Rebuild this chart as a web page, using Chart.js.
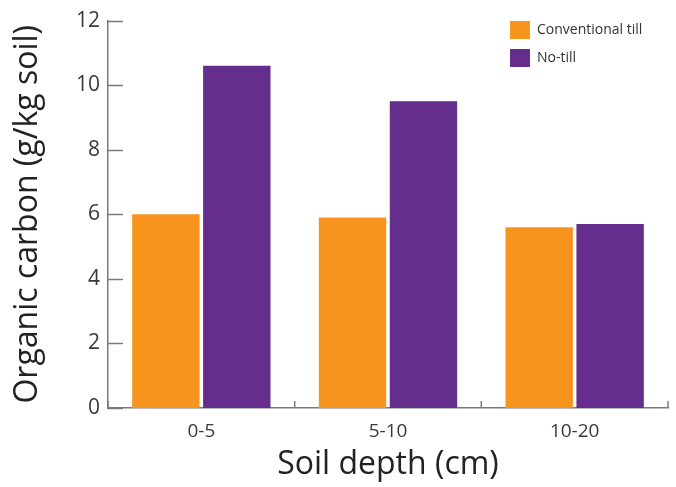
<!DOCTYPE html>
<html>
<head>
<meta charset="utf-8">
<script src="https://cdn.jsdelivr.net/npm/chart.js@4.4.1/dist/chart.umd.min.js"></script>
<style>
  html, body { margin: 0; padding: 0; background: #fff; }
  #wrap { width: 676px; height: 487px; }
</style>
</head>
<body>
<div id="wrap"><canvas id="grafica"></canvas></div>
<script>
const profundidades = ['0-5', '5-10', '10-20'];
const labranzaConvencional = [6.0, 5.9, 5.6];
const sinLabranza = [10.6, 9.5, 5.7];
const marcasY = [0, 2, 4, 6, 8, 10, 12];

const fuente = '"Open Sans", sans-serif';
const gris = '#7a7a7a';

// ticks pointing into the plot, plus legend in the top right
const extras = {
    id: 'extras',
    afterDraw(chart) {
        const ctx = chart.ctx;
        const x = chart.scales.x;
        const y = chart.scales.y;
        const area = chart.chartArea;
        ctx.save();
        ctx.strokeStyle = gris;
        ctx.lineWidth = 1.5;
        marcasY.forEach(v => {
            const py = Math.round(y.getPixelForValue(v)) + 0.5;
            ctx.beginPath();
            ctx.moveTo(area.left, py);
            ctx.lineTo(area.left + 15, py);
            ctx.stroke();
        });
        const n = profundidades.length;
        for (let i = 0; i <= n; i++) {
            const px = x.getPixelForValue(i - 0.5);
            ctx.beginPath();
            ctx.moveTo(px, area.bottom);
            ctx.lineTo(px, area.bottom - 7);
            ctx.stroke();
        }

        ctx.font = '14px ' + fuente;
        ctx.textBaseline = 'middle';
        ctx.textAlign = 'left';
        chart.data.datasets.forEach((ds, i) => {
            const top = 21 + i * 28;
            ctx.fillStyle = ds.backgroundColor;
            ctx.fillRect(510, top, 20, 18);
            ctx.fillStyle = '#333';
            ctx.fillText(ds.label, 537, top + 9);
        });
        ctx.restore();
    }
};

new Chart(document.getElementById('grafica'), {
    type: 'bar',
    data: {
        labels: profundidades,
        datasets: [
            {
                label: 'Conventional till',
                data: labranzaConvencional,
                backgroundColor: '#F7941E',
                categoryPercentage: 0.76,
                barPercentage: 0.95
            },
            {
                label: 'No-till',
                data: sinLabranza,
                backgroundColor: '#652D8C',
                categoryPercentage: 0.76,
                barPercentage: 0.95
            }
        ]
    },
    options: {
        responsive: true,
        maintainAspectRatio: false,
        animation: false,
        layout: { padding: { top: 19, right: 8, left: 0, bottom: 0 } },
        plugins: {
            legend: { display: false },
            tooltip: { enabled: false }
        },
        scales: {
            x: {
                grid: { display: false, drawTicks: false },
                border: { color: gris, width: 1.5 },
                ticks: {
                    padding: 12,
                    color: '#3a3a3a',
                    font: { family: fuente, size: 19 }
                },
                title: {
                    display: true,
                    text: 'Soil depth (cm)',
                    color: '#222',
                    font: { family: fuente, size: 32 },
                    padding: { top: 0, bottom: 3 }
                },
                afterFit(scale) { scale.height = 79; }
            },
            y: {
                min: 0,
                max: 12,
                afterBuildTicks(scale) {
                    scale.ticks = marcasY.map(v => ({ value: v }));
                },
                grid: { display: false, drawTicks: false },
                border: { color: gris, width: 1.5 },
                ticks: {
                    padding: 8,
                    color: '#3a3a3a',
                    font: { family: fuente, size: 21 }
                },
                title: {
                    display: true,
                    text: 'Organic carbon (g/kg soil)',
                    color: '#222',
                    font: { family: fuente, size: 32 },
                    padding: { top: 9, bottom: 0 }
                },
                afterFit(scale) { scale.width = 108; }
            }
        }
    },
    plugins: [extras]
});
</script>
</body>
</html>
